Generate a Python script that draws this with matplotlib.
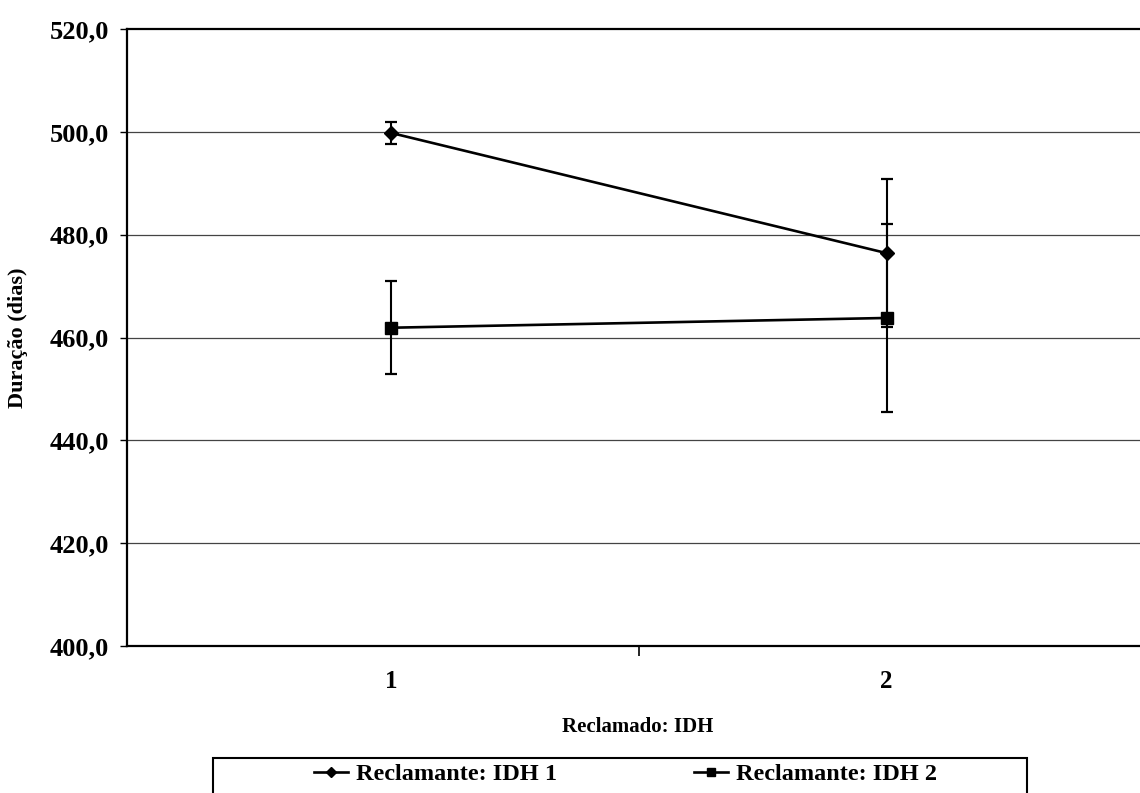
import matplotlib
matplotlib.use("Agg")
import matplotlib.pyplot as plt
from matplotlib.patches import Rectangle
from matplotlib.ticker import FixedLocator, FuncFormatter

# Reclamado IDH categories
reclamado = [1, 2]

# mean duration (days) and half-width of the error bars, per reclamante IDH
idh1_mean = [499.8, 476.4]
idh1_err = [2.2, 14.4]
idh2_mean = [461.9, 463.8]
idh2_err = [9.0, 18.2]

series_labels = ["Reclamante: IDH 1", "Reclamante: IDH 2"]
yticks = [400, 420, 440, 460, 480, 500, 520]

plt.rcParams["font.family"] = ["Liberation Serif", "DejaVu Serif"]
plt.rcParams["font.weight"] = "bold"

W, H = 1140, 793
fig = plt.figure(figsize=(W / 100, H / 100), dpi=100)
fig.patch.set_facecolor("white")

# plot area runs past the right edge of the figure
ax = fig.add_axes([127 / W, 1 - 646 / H, 1033 / W, 617 / H])
ax.set_xlim(0.468, 2.551)
ax.set_ylim(400, 520)

for v in yticks[1:-1]:
    ax.axhline(v, color="#444444", lw=0.9, zorder=1)

ax.errorbar(reclamado, idh1_mean, yerr=idh1_err, color="black", lw=1.9,
            elinewidth=1.5, capsize=4, capthick=1.6, marker="D", ms=7,
            mfc="black", mec="black", label=series_labels[0], zorder=3,
            clip_on=False)
ax.errorbar(reclamado, idh2_mean, yerr=idh2_err, color="black", lw=1.9,
            elinewidth=1.5, capsize=4, capthick=1.6, marker="s", ms=8,
            mfc="black", mec="black", label=series_labels[1], zorder=3,
            clip_on=False)

ax.set_yticks(yticks)
ax.yaxis.set_major_formatter(FuncFormatter(lambda v, _: f"{v:.1f}".replace(".", ",")))
ax.tick_params(axis="y", direction="out", length=5, width=1.0, labelsize=19,
               pad=8)

ax.set_xticks(reclamado)
ax.set_xticklabels([str(c) for c in reclamado])
ax.xaxis.set_minor_locator(FixedLocator([1.5]))
ax.tick_params(axis="x", which="major", length=0, labelsize=18, pad=17)
ax.tick_params(axis="x", which="minor", direction="out", length=7, width=1.2)

for side in ("left", "bottom", "top"):
    ax.spines[side].set_linewidth(1.6)
ax.spines["right"].set_visible(False)

fig.text(638 / W, 1 - 727 / H, "Reclamado: IDH", ha="center", va="center",
         fontsize=15, fontweight="bold")
fig.text(18 / W, 1 - 338 / H, "Duração (dias)", ha="center", va="center",
         rotation=90, fontsize=16, fontweight="bold")

# legend box, open at the bottom edge
fig.patches.append(Rectangle((213 / W, -0.02), (1027 - 213) / W,
                             (1 - 758 / H) + 0.02, transform=fig.transFigure,
                             fill=False, lw=1.5, edgecolor="black"))
handles, labels = ax.get_legend_handles_labels()
handles = [h[0] for h in handles]
fig.legend(handles, labels, loc="center left", ncol=2, frameon=False,
           bbox_to_anchor=(292 / W, 1 - 774 / H), fontsize=17.5,
           handlelength=1.4, handletextpad=0.35, columnspacing=5.6,
           markerscale=0.8)

fig.savefig("out.png", dpi=100, facecolor="white")
